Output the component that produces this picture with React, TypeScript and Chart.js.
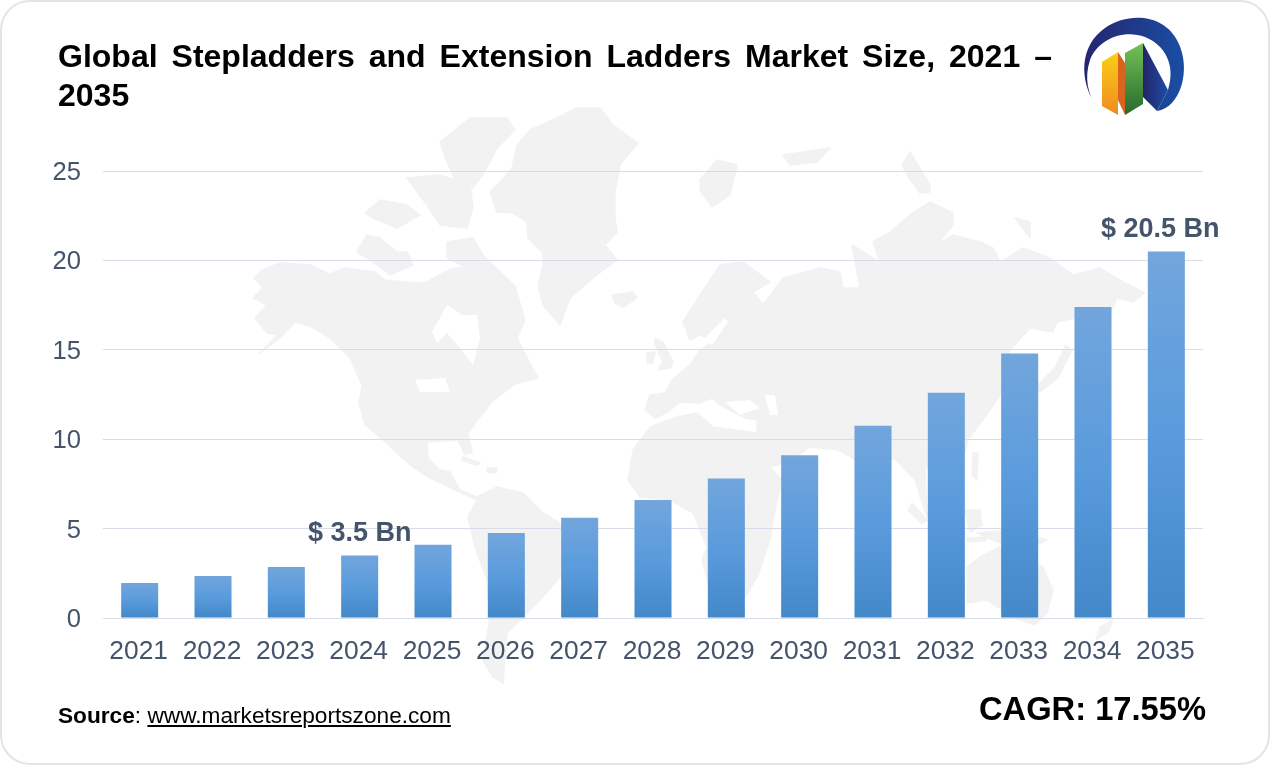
import React, { useEffect, useRef } from "react";
import { Chart, registerables } from "chart.js";

Chart.register(...registerables);

const years = ["2021","2022","2023","2024","2025","2026","2027","2028","2029","2030","2031","2032","2033","2034","2035"];
const marketSize = [1.96,2.35,2.85,3.5,4.1,4.75,5.6,6.6,7.8,9.1,10.75,12.6,14.8,17.4,20.5];
const barCallouts: (string | null)[] = [null,null,null,"$ 3.5 Bn",null,null,null,null,null,null,null,null,null,null,"$ 20.5 Bn"];
const titleLines = ["Global Stepladders and Extension Ladders Market Size, 2021 –", "2035"];
const sourceLabel = "Source";
const sourceLink = "www.marketsreportszone.com";
const cagrText = "CAGR: 17.55%";

const FONT = '"Liberation Sans", Arial, sans-serif';
const SLATE = "#44546a";
const GRID = "#d6dde9";

const land = [
  "254,278 262,270 280,263 310,265 330,274 345,268 375,272 385,280 405,282 425,283 445,272 455,268 470,268 478,265 490,272 500,285 516,290 525,320 517,338 524,352 538,378 515,384 497,398 493,400 480,417 468,433 472,452 465,455 458,440 427,442 428,458 440,470 450,472 460,490 477,497 497,487 523,493 543,513 560,523 590,545 575,565 560,577 540,600 520,620 507,633 503,683 493,677 483,660 490,617 487,580 475,547 468,517 477,500 455,490 430,478 410,465 383,440 365,425 359,403 362,385 350,358 330,338 312,327 295,322 280,338 260,353 277,335 267,333 255,318 267,305 253,298 263,288",
  "512,168 517,145 530,130 557,118 577,108 600,108 613,125 638,143 620,165 615,192 615,218 617,232 605,245 617,260 593,278 570,298 560,325 543,305 538,285 543,265 543,253 528,238 527,222 513,213 497,212 490,192 500,182",
  "440,142 470,118 507,118 515,130 497,148 487,168 473,188 457,185 447,162",
  "357,252 367,235 380,238 397,252 407,252 413,265 390,275 373,262",
  "365,213 380,200 407,205 420,215 397,228 373,218",
  "407,178 440,175 470,185 473,208 467,228 440,225 427,205",
  "447,242 473,238 483,255 517,288 503,292 487,285 467,268 447,258",
  "612,295 633,292 637,298 623,307 615,303",
  "655,338 663,342 673,362 670,368 658,370 663,362 655,345",
  "647,353 655,352 653,363 647,363",
  "650,395 665,393 672,380 690,365 700,350 715,340 700,335 690,340 683,322 700,295 720,265 743,262 770,282 753,292 763,305 783,278 820,268 840,272 843,288 860,288 852,245 880,262 873,242 890,232 910,215 930,202 953,213 953,225 937,245 953,235 980,242 993,248 1000,262 1023,248 1050,258 1073,275 1100,268 1123,282 1145,293 1133,302 1117,298 1113,308 1095,345 1082,350 1075,318 1057,322 1053,332 1030,328 1010,350 1000,395 990,410 968,440 960,470 940,480 925,465 927,517 915,480 893,457 875,485 860,465 850,456 838,450 810,447 790,462 770,467 782,480 775,510 770,540 758,575 745,597 725,607 710,590 702,560 707,547 693,513 670,500 640,497 628,480 633,450 650,427 677,417 697,413 713,427 757,433 757,420 745,418 720,405 712,398 700,403 680,402 668,412 655,418 645,410",
  "967,567 980,557 1000,547 1043,567 1053,590 1047,613 1035,625 1015,618 987,600 967,603",
  "977,533 1010,530 1047,540 1030,548 1000,543",
  "912,503 927,520 922,524 908,510",
  "965,510 980,510 982,525 970,532",
  "967,538 987,537 985,541 968,542",
  "973,453 978,453 977,480 972,475",
  "1066,345 1072,350 1058,378 1040,392 1035,388 1055,368",
  "1100,627 1113,620 1108,632 1096,640",
  "783,155 830,148 817,162 790,165",
  "902,165 910,152 930,185 930,192 920,193 907,175",
  "700,180 717,160 737,165 730,195 712,207 700,190",
  "1015,218 1030,222 1030,238 1020,225",
  "463,457 480,463 476,465 462,460",
  "487,468 497,468 496,473 487,472",
];
const sea = [
  "432,332 447,305 462,315 477,315 480,338 473,365 463,352 447,333 437,343",
  "725,402 750,400 760,408 740,415",
  "765,395 775,395 778,415 770,415",
  "703,340 725,318 728,322 712,345",
  "415,380 445,378 450,392 420,392",
];

function Logo() {
  return (
    <svg width="130" height="120" viewBox="1070 10 130 120" style={{ position: "absolute", left: 1070, top: 10 }}>
      <defs>
        <linearGradient id="ring" x1="0" x2="1" y1="0" y2="0">
          <stop offset="0" stopColor="#26256f" /><stop offset="1" stopColor="#1a4ea3" />
        </linearGradient>
        <linearGradient id="yel" x1="0" x2="0" y1="0" y2="1">
          <stop offset="0" stopColor="#fbd016" /><stop offset="1" stopColor="#ee8a22" />
        </linearGradient>
        <linearGradient id="grn" x1="0" x2="0" y1="0" y2="1">
          <stop offset="0" stopColor="#74c257" /><stop offset="1" stopColor="#266a2c" />
        </linearGradient>
        <linearGradient id="nav" x1="0" x2="1" y1="0" y2="0">
          <stop offset="0" stopColor="#26236a" /><stop offset="1" stopColor="#1b4ea5" />
        </linearGradient>
      </defs>
      <path d="M1097 107 C1078 80 1080 45 1105 28 C1130 11 1165 15 1178 42 C1192 70 1180 108 1157 111 L1168 90 C1176 65 1165 45 1145 37 C1122 29 1098 40 1090 60 C1084 78 1088 95 1097 107 Z" fill="url(#ring)" />
      <polygon points="1143,43 1168,90 1157,111 1143,97" fill="url(#nav)" />
      <polygon points="1102,62 1118,52 1118,115 1102,106" fill="url(#yel)" />
      <polygon points="1118,52 1125,63 1125,115 1118,100" fill="#d8641f" />
      <polygon points="1125,53 1143,43 1143,104 1125,115" fill="url(#grn)" />
    </svg>
  );
}

export default function App() {
  const ref = useRef<HTMLCanvasElement>(null);

  useEffect(() => {
    const canvas = ref.current;
    if (!canvas) return;

    const callouts = {
      id: "callouts",
      afterDatasetsDraw(chart: any) {
        const { ctx } = chart;
        const bars = chart.getDatasetMeta(0).data;
        ctx.save();
        ctx.font = `bold 27px ${FONT}`;
        ctx.fillStyle = SLATE;
        ctx.textAlign = "center";
        ctx.textBaseline = "alphabetic";
        barCallouts.forEach((text, i) => {
          if (!text) return;
          const shift = i === barCallouts.length - 1 ? -6 : 0;
          ctx.fillText(text, bars[i].x + shift, bars[i].y - 14);
        });
        ctx.restore();
      },
    };

    const chart = new Chart(canvas, {
      type: "bar",
      data: {
        labels: years,
        datasets: [{
          data: marketSize,
          categoryPercentage: 0.505,
          barPercentage: 1,
          backgroundColor: (c: any) => {
            const { chart: ch, dataIndex } = c;
            const y = ch.scales && ch.scales.y;
            if (!y || dataIndex === undefined) return "#5b9bdc";
            const top = y.getPixelForValue(marketSize[dataIndex]);
            const bottom = y.getPixelForValue(0);
            if (!Number.isFinite(top) || !Number.isFinite(bottom)) return "#5b9bdc";
            const g = ch.ctx.createLinearGradient(0, top, 0, bottom);
            g.addColorStop(0, "#72a6dc");
            g.addColorStop(0.5, "#5a9bdc");
            g.addColorStop(1, "#4388c8");
            return g;
          },
        }],
      },
      options: {
        animation: false,
        responsive: false,
        layout: { padding: { left: 0, right: 67, top: 171, bottom: 87 } },
        plugins: { legend: { display: false }, title: { display: false }, tooltip: { enabled: false } },
        scales: {
          x: {
            grid: { display: false },
            border: { display: true, color: GRID, width: 1 },
            ticks: { color: SLATE, font: { family: FONT, size: 26.4 }, padding: 10, labelOffset: -1, maxRotation: 0, autoSkip: false },
            afterFit: (s: any) => { s.height = 60; },
          },
          y: {
            min: 0,
            max: 25,
            grid: { color: GRID, lineWidth: 1, drawTicks: false },
            border: { display: false },
            ticks: { stepSize: 5, color: SLATE, font: { family: FONT, size: 25.6 }, padding: 22, labelOffset: 2 },
            afterFit: (s: any) => { s.width = 103; },
          },
        },
      },
      plugins: [callouts],
    } as any);
    return () => chart.destroy();
  }, []);

  return (
    <div style={{ position: "absolute", left: 0, top: 0, width: 1270, height: 765, background: "#fff", overflow: "hidden", fontFamily: FONT }}>
      <div style={{ position: "absolute", left: 0, top: 0, width: 1270, height: 765, boxSizing: "border-box", border: "2px solid #e4e4e4", borderRadius: 30 }} />
      <svg width="1270" height="765" style={{ position: "absolute", left: 0, top: 0 }}>
        {land.map((p, i) => <polygon key={i} points={p} fill="#f2f2f2" stroke="#f2f2f2" strokeWidth="1.5" strokeLinejoin="round" />)}
        {sea.map((p, i) => <polygon key={i} points={p} fill="#fff" />)}
      </svg>
      <canvas ref={ref} width={1270} height={765} style={{ position: "absolute", left: 0, top: 0, width: 1270, height: 765 }} />
      <div style={{ position: "absolute", left: 58, top: 37, width: 994, fontWeight: "bold", fontSize: 32, lineHeight: "39px", color: "#000", textAlign: "justify", textAlignLast: "justify" }}>
        {titleLines[0]}<br />{titleLines[1]}
      </div>
      <Logo />
      <div style={{ position: "absolute", left: 58, top: 702, fontSize: 22.67, lineHeight: "26px", color: "#000", whiteSpace: "nowrap" }}>
        <b>{sourceLabel}</b>: <span style={{ textDecoration: "underline" }}>{sourceLink}</span>
      </div>
      <div style={{ position: "absolute", right: 64, top: 688, fontSize: 32.7, lineHeight: "42px", fontWeight: "bold", color: "#000", whiteSpace: "nowrap" }}>
        {cagrText}
      </div>
    </div>
  );
}
